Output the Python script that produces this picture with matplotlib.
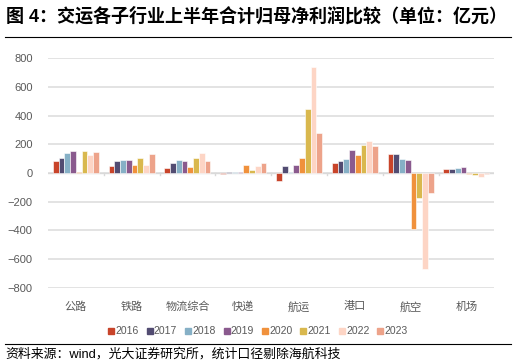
import numpy as np
from matplotlib import pyplot as plt
from matplotlib.lines import Line2D

plt.rcParams['font.family'] = ['Liberation Sans', 'Noto Sans CJK SC', 'DejaVu Sans']

categories = ['公路', '铁路', '物流综合', '快递', '航运', '港口', '航空', '机场']
years = ['2016', '2017', '2018', '2019', '2020', '2021', '2022', '2023']
colors = ['#C8442A', '#524C72', '#86B0C6', '#8A5A8E', '#F0913C', '#D9B84E', '#FDD5C5', '#EDA38A']

# 每年各子行业数值（亿元），按 categories 顺序
v2016 = [86, 47, 35, -9, -56, 70, 133, 26]
v2017 = [105, 84, 70, 9, 49, 84, 133, 30]
v2018 = [138, 93, 93, 9, 9, 98, 100, 37]
v2019 = [154, 93, 84, 9, 58, 159, 91, 40]
v2020 = [9, 58, 42, 58, 107, 128, -394, -9]
v2021 = [152, 107, 107, 19, 443, 198, -177, -12]
v2022 = [128, 58, 140, 51, 741, 226, -669, -28]
v2023 = [149, 135, 86, 70, 275, 191, -140, -5]
values = [v2016, v2017, v2018, v2019, v2020, v2021, v2022, v2023]

fig = plt.figure(figsize=(5.16, 3.64), dpi=100)
ax = fig.add_axes([0.093, 0.21, 0.865, 0.63])

x = np.arange(len(categories))
w = 0.103
for i, (yr, vals) in enumerate(zip(years, values)):
    ax.bar(x + (i - 3.5) * w, vals, w, color=colors[i], label=yr,
           edgecolor='white', linewidth=0.4, zorder=3)

ax.set_ylim(-800, 800)
ax.set_yticks(range(-800, 801, 200))
ax.set_xlim(-0.5, len(categories) - 0.5)
ax.yaxis.grid(True, color='#E3E3E3', linewidth=1.4, zorder=0)
ax.axhline(0, color='#D9D9D9', linewidth=1.0, zorder=2)
for s in ax.spines.values():
    s.set_visible(False)
ax.tick_params(axis='y', length=0, labelsize=8, labelcolor='#595959', pad=11)
ax.set_xticks(x)
ax.set_xticklabels(categories)
ax.tick_params(axis='x', length=0, labelsize=8, labelcolor='#595959', pad=10)

# 分组之间的小刻度
for b in x[:-1] + 0.5:
    ax.plot([b, b], [0, -15], color='#D9D9D9', linewidth=1.0, zorder=2)

handles = [Line2D([], [], marker='s', linestyle='', markersize=5, color=c) for c in colors]
fig.legend(handles, years, loc='center', bbox_to_anchor=(0.5, 0.09), ncol=8,
           frameon=False, fontsize=7.5, handletextpad=0.1, handlelength=0.6,
           columnspacing=0.75, labelcolor='#595959')

fig.text(0.012, 0.955, '图 4：交运各子行业上半年合计归母净利润比较（单位：亿元）',
         fontsize=13, fontweight='bold', va='center', ha='left')
fig.add_artist(Line2D([0.01, 0.99], [0.898, 0.898], color='black', linewidth=0.8))
fig.add_artist(Line2D([0.01, 0.99], [0.055, 0.055], color='black', linewidth=0.8))
fig.text(0.01, 0.028, '资料来源：wind，光大证券研究所，统计口径剔除海航科技',
         fontsize=9.3, va='center', ha='left')

fig.savefig('out.png', dpi=100)
